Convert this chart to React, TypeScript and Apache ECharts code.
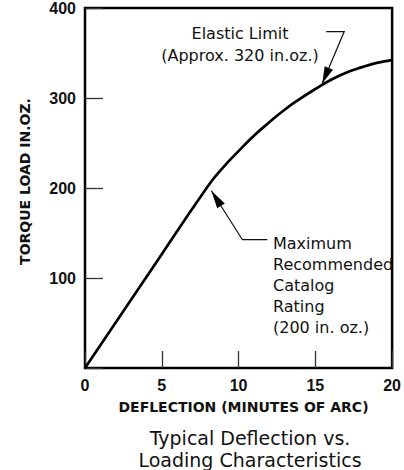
import React, { useEffect, useRef } from "react";
import * as echarts from "echarts";

// Data
const deflection = [0, 4, 8, 9, 10, 11, 12, 13, 14, 15, 16, 17, 18, 19, 20];
const torque = [0, 101, 202, 223, 241, 258, 273, 287, 299, 310, 320, 328, 334, 339, 342];
const xTickLabels = ["0", "5", "10", "15", "20"];
const yTickLabels = ["", "100", "200", "300", "400"];

const xAxisName = "DEFLECTION (MINUTES OF ARC)";
const yAxisName = "TORQUE LOAD IN.OZ.";
const titleLines = ["Typical Deflection vs.", "Loading Characteristics"];
const elasticLines = ["Elastic Limit", "(Approx. 320 in.oz.)"];
const ratingLines = ["Maximum", "Recommended", "Catalog", "Rating", "(200 in. oz.)"];
const elasticPoint = [15.45, 316];
const ratingPoint = [8.23, 197];

const LABEL_FONT = "'Liberation Sans', Arial, sans-serif";
const TEXT_FONT = "'DejaVu Sans', sans-serif";

function arrowHead(tip: number[], from: number[], len: number, half: number) {
  const dx = tip[0] - from[0];
  const dy = tip[1] - from[1];
  const d = Math.sqrt(dx * dx + dy * dy);
  const ux = dx / d;
  const uy = dy / d;
  const bx = tip[0] - ux * len;
  const by = tip[1] - uy * len;
  return [
    [tip[0], tip[1]],
    [bx - uy * half, by + ux * half],
    [bx + uy * half, by - ux * half],
  ];
}

export default function App() {
  const ref = useRef<HTMLDivElement>(null);
  useEffect(() => {
    if (!ref.current) return;
    const chart = echarts.init(ref.current, null, { renderer: "svg" });
    const option: any = {
      animation: false,
      backgroundColor: "#fff",
      grid: {
        left: 85,
        top: 6,
        right: 11,
        bottom: 102,
        show: true,
        borderColor: "#000",
        borderWidth: 2.5,
        backgroundColor: "transparent",
      },
      xAxis: {
        type: "value",
        min: 0,
        max: 20,
        interval: 5,
        axisLine: { show: false },
        splitLine: { show: false },
        axisTick: { show: true, inside: true, length: 17, lineStyle: { color: "#333", width: 1.3 } },
        axisLabel: {
          margin: 9,
          fontFamily: LABEL_FONT,
          fontWeight: "bold",
          fontSize: 16,
          color: "#111",
          formatter: (v: number) => xTickLabels[Math.round(v / 5)] ?? "",
        },
      },
      yAxis: {
        type: "value",
        min: 0,
        max: 400,
        interval: 100,
        axisLine: { show: false },
        splitLine: { show: false },
        axisTick: { show: true, inside: true, length: 18, lineStyle: { color: "#333", width: 1.3 } },
        axisLabel: {
          margin: 9,
          fontFamily: LABEL_FONT,
          fontWeight: "bold",
          fontSize: 16,
          color: "#111",
          formatter: (v: number) => yTickLabels[Math.round(v / 100)] ?? "",
        },
      },
      series: [
        {
          type: "line",
          data: deflection.map((x, i) => [x, torque[i]]),
          smooth: 0.5,
          showSymbol: false,
          symbol: "none",
          lineStyle: { color: "#000", width: 2.7 },
          z: 3,
        },
      ],
    };
    chart.setOption(option);

    const eTip = chart.convertToPixel({ gridIndex: 0 }, elasticPoint) as number[];
    const rTip = chart.convertToPixel({ gridIndex: 0 }, ratingPoint) as number[];
    const eElbow = [eTip[0] + 22, eTip[1] - 52];
    const eEnd = [eTip[0] + 4, eTip[1] - 52];
    const rElbow = [rTip[0] + 31, rTip[1] + 49];
    const rEnd = [rTip[0] + 56, rTip[1] + 49];

    const graphics: any[] = [];
    graphics.push({
      type: "text",
      x: 243.5,
      y: 406.5,
      style: { text: xAxisName, font: `bold 14px ${TEXT_FONT}`, fill: "#111", textAlign: "center", textVerticalAlign: "middle" },
    });
    graphics.push({
      type: "text",
      x: 25,
      y: 181.5,
      rotation: Math.PI / 2,
      style: { text: yAxisName, font: `bold 14px ${TEXT_FONT}`, fill: "#111", textAlign: "center", textVerticalAlign: "middle" },
    });
    titleLines.forEach((t, i) => {
      graphics.push({
        type: "text",
        x: 250,
        y: 437.5 + i * 22.5,
        style: { text: t, font: `19px ${TEXT_FONT}`, fill: "#111", textAlign: "center", textVerticalAlign: "middle" },
      });
    });
    elasticLines.forEach((t, i) => {
      graphics.push({
        type: "text",
        x: 240,
        y: 33.5 + i * 22,
        style: { text: t, font: `16px ${TEXT_FONT}`, fill: "#111", textAlign: "center", textVerticalAlign: "middle" },
      });
    });
    graphics.push({
      type: "polyline",
      shape: { points: [eEnd, eElbow, eTip] },
      style: { stroke: "#111", lineWidth: 1.2, fill: null },
      z: 10,
    });
    graphics.push({
      type: "polygon",
      shape: { points: arrowHead(eTip, eElbow, 17, 4.5) },
      style: { fill: "#000" },
      z: 10,
    });
    ratingLines.forEach((t, i) => {
      graphics.push({
        type: "text",
        x: 273,
        y: 243 + i * 21,
        style: { text: t, font: `16px ${TEXT_FONT}`, fill: "#111", textAlign: "left", textVerticalAlign: "middle" },
      });
    });
    graphics.push({
      type: "polyline",
      shape: { points: [rEnd, rElbow, rTip] },
      style: { stroke: "#111", lineWidth: 1.2, fill: null },
      z: 10,
    });
    graphics.push({
      type: "polygon",
      shape: { points: arrowHead(rTip, rElbow, 18, 4.5) },
      style: { fill: "#000" },
      z: 10,
    });

    chart.setOption({ graphic: graphics });
    return () => chart.dispose();
  }, []);
  return <div ref={ref} style={{ position: "absolute", left: 0, top: 0, width: 404, height: 470 }} />;
}
